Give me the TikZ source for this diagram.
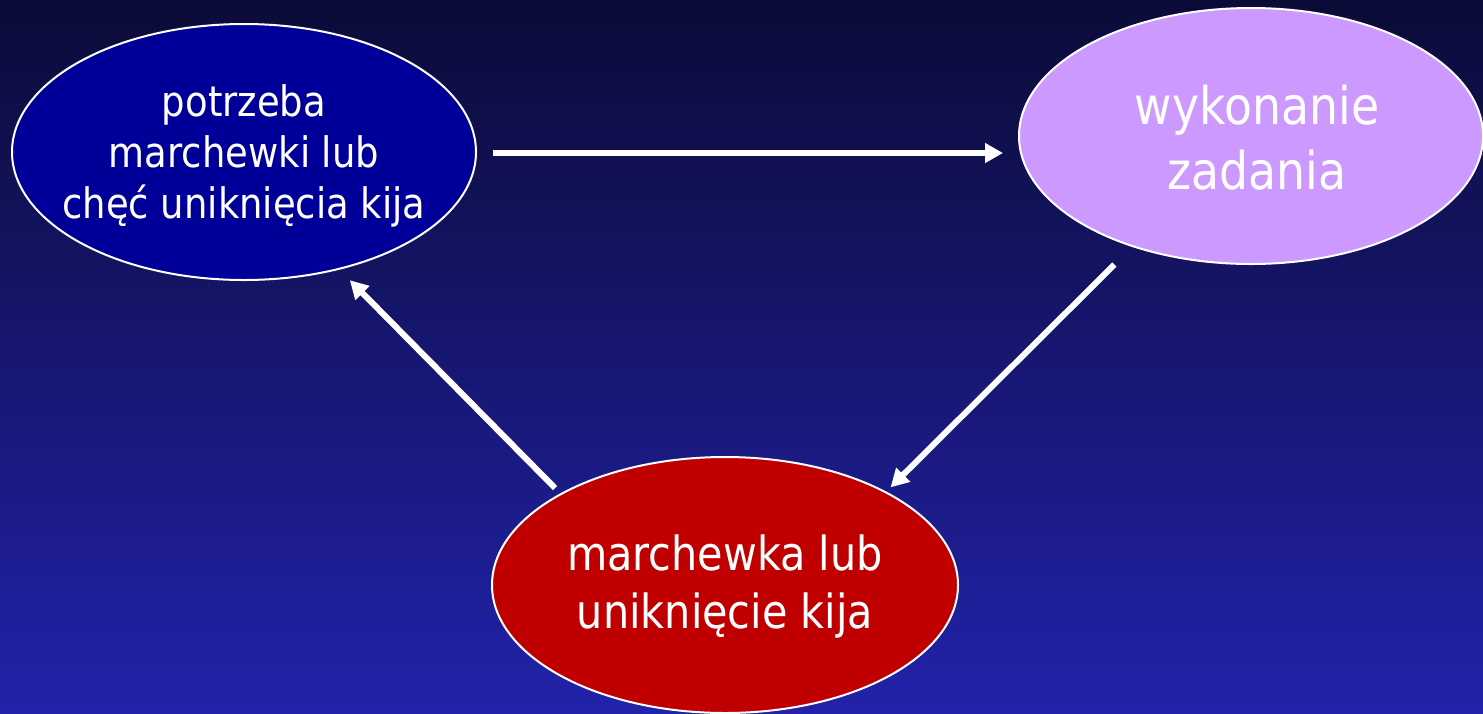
\documentclass[tikz,border=0pt]{standalone}
\usepackage{fontspec}
\usetikzlibrary{arrows.meta,shapes.geometric}
\newfontfamily\tfont[FakeStretch=0.88]{DejaVu Sans}
\definecolor{bgtop}{RGB}{11,11,56}
\definecolor{bgbot}{RGB}{34,34,170}
\definecolor{navyfill}{RGB}{0,0,153}
\definecolor{lilac}{RGB}{204,153,255}
\definecolor{redfill}{RGB}{192,0,0}
\tikzset{
  oval/.style={ellipse, draw=white, line width=2pt, minimum width=464pt, minimum height=256pt,
    inner sep=0pt, outer sep=0pt},
  ovaltext/.style={text=white, align=center, inner sep=0pt},
  flow/.style={draw=white, line width=6pt, -{Triangle[length=18pt,width=19pt]}}
}
\begin{document}
\begin{tikzpicture}[x=1pt,y=-1pt]
\shade[top color=bgtop, bottom color=bgbot] (0,0) rectangle (1483,713);
\useasboundingbox (0,0) rectangle (1483,713);
\node[oval, fill=navyfill,
  label={[ovaltext, font=\tfont\fontsize{42}{51}\selectfont, name=Lt, yshift=-4pt]center:potrzeba\\marchewki lub\\chęć uniknięcia kija}] (L) at (244,152) {};
\node[oval, fill=lilac,
  label={[ovaltext, font=\tfont\fontsize{52}{65}\selectfont, name=Rt, xshift=6pt, yshift=-2pt]center:wykonanie\\zadania}] (R) at (1251,136) {};
\node[oval, fill=redfill, minimum width=466pt,
  label={[ovaltext, font=\tfont\fontsize{47}{58}\selectfont, name=Bt, yshift=-2pt]center:marchewka lub\\uniknięcie kija}] (B) at (725,585) {};
\draw[flow, shorten <=17pt, shorten >=16pt] (L.east |- 0,153) -- (R.west |- 0,153);
\draw[flow, shorten <=26pt, shorten >=7pt] (R.223.5) -- (B.30);
\draw[flow, shorten <=8.5pt, shorten >=16pt] (B.151) -- (L.-51.8);
\end{tikzpicture}
\end{document}
